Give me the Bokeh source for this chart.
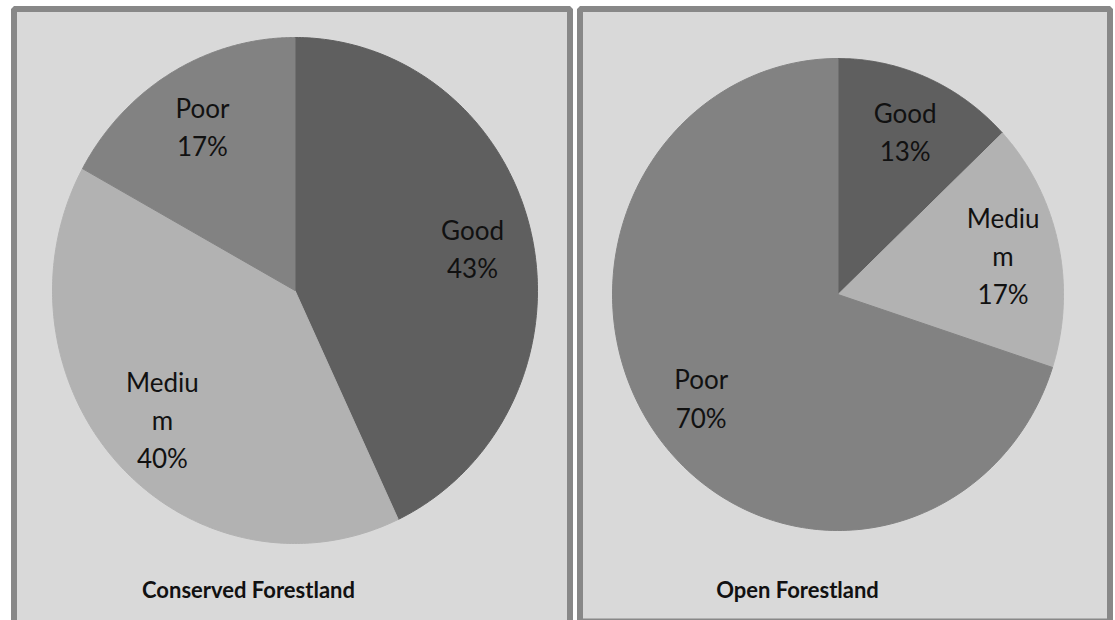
import numpy as np
from bokeh.plotting import figure
from bokeh.models import Range1d, ColumnDataSource
from bokeh.core.properties import value
from bokeh.embed import file_html
from bokeh.resources import INLINE

# ---- data ----
categories = ["Good", "Medium", "Poor"]
label_names = ["Good", "Mediu\nm", "Poor"]
conserved = [43, 40, 17]
open_forest = [13, 17, 70]
titles = ["Conserved Forestland", "Open Forestland"]
colors = ["#5f5f5f", "#b2b2b2", "#828282"]

W, H = 1115, 620
p = figure(width=W, height=H, x_range=Range1d(0, W), y_range=Range1d(H, 0),
           output_backend="svg", toolbar_location=None, min_border=0)
p.axis.visible = False
p.grid.visible = False
p.outline_line_color = None
p.background_fill_color = "white"
p.border_fill_color = "white"

# panels
p.quad(left=[13.5, 579.5], right=[569.5, 1109.5], top=[8.5, 8.5], bottom=[640, 621],
       fill_color="#d9d9d9", line_color="#888888", line_width=6)

# pies (cx, cy, rx, ry) - slightly elliptical as in the reference
pies = [(conserved, 294.5, 290, 242.5, 253), (open_forest, 837.5, 294, 225.5, 236)]

for vals, cx, cy, rx, ry in pies:
    v = np.array(vals, dtype=float)
    frac = v / v.sum()
    ends = np.cumsum(frac) * 2 * np.pi
    starts = ends - frac * 2 * np.pi
    xs, ys = [], []
    lx, ly, lt = [], [], []
    for i, (a0, a1) in enumerate(zip(starts, ends)):
        t = np.linspace(a0, a1, 200)
        xs.append([cx] + list(cx + rx * np.sin(t)))
        ys.append([cy] + list(cy - ry * np.cos(t)))
        mid = (a0 + a1) / 2
        lx.append(cx + 0.75 * rx * np.sin(mid))
        ly.append(cy - 0.75 * ry * np.cos(mid))
        lt.append(f"{label_names[i]}\n{vals[i]}%")
    src = ColumnDataSource(dict(xs=xs, ys=ys, color=colors, cat=categories))
    p.patches("xs", "ys", source=src, fill_color="color", line_color="color", line_width=1)
    p.text(x=lx, y=ly, text=lt, text_font=value("Lato"), text_font_size="26px",
           text_color="#111111", text_align="center", text_baseline="middle",
           text_line_height=1.19)

p.text(x=[248, 797], y=[589, 589], text=titles, text_font=value("Lato"),
       text_font_style="bold", text_font_size="22px", text_color="#111111",
       text_align="center", text_baseline="middle")

open("out.html", "w").write(file_html(p, INLINE))
